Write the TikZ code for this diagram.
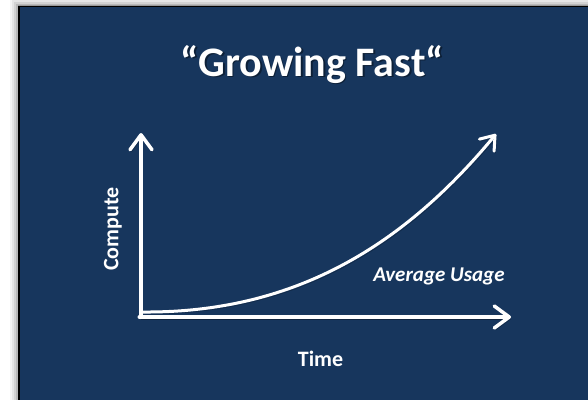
\documentclass[tikz,border=0pt]{standalone}
\usepackage{fontspec}
\setmainfont{Carlito}
\usetikzlibrary{arrows.meta}
\definecolor{slidenavy}{RGB}{23,54,93}
\tikzset{
  lineshadow/.style={preaction={draw=black, draw opacity=0.3, transform canvas={shift={(1.5pt,-2pt)}}}},
  axisarrow/.style={white, line width=3.5pt, line cap=round, lineshadow,
    -{Straight Barb[length=15pt,width=22pt,line cap=round,line join=round]}},
  usagecurve/.style={white, line width=3pt, line cap=round, lineshadow,
    -{Straight Barb[length=13pt,width=19pt,line cap=round,line join=round]}},
  axlabel/.style={text=white, font=\bfseries\fontsize{22}{26}\selectfont, inner sep=0pt},
}
\begin{document}
\begin{tikzpicture}[x=1pt,y=-1pt]
	\useasboundingbox (0,0) rectangle (588,399);
	\fill[white] (0,0) rectangle (588,399);
	%Schatten der Folie
	\foreach \d/\o in {9/0.04,7/0.06,5/0.08,3/0.12,1.5/0.16}
		\fill[black, opacity=\o] (19-\d,6.5-\d) rectangle (600,410);
	\filldraw[fill=slidenavy, draw=black, line width=1.2pt] (19,6.5) rectangle (600,410);%Folie

	\node[text=black, opacity=0.4, font=\bfseries\fontsize{42}{48}\selectfont, inner sep=0pt] at (314,66) {“Growing Fast“};
	\node (title)[text=white, font=\bfseries\fontsize{42}{48}\selectfont, inner sep=0pt] at (312.5,64.5) {“Growing Fast“};

	%Achsen
	\coordinate (O) at (141,317);
	\coordinate (Y) at (141,133);
	\coordinate (X) at (511,317);
	\draw[axisarrow] (O) -- (Y);
	\draw[axisarrow] (139.3,317) -- (X);

	%Kurve
	\coordinate (S) at (143,312);
	\coordinate (E) at (496,134);
	\draw[usagecurve] (S) .. controls (290,313) and (400,250) .. (E);

	\node (compute)[axlabel, rotate=90] at (113,229) {Compute};
	\node (time)[axlabel, anchor=base] at (320.5,366) {Time};
	\node (usage)[axlabel, font=\bfseries\itshape\fontsize{21}{25}\selectfont, anchor=base] at (439,281) {Average Usage};
\end{tikzpicture}
\end{document}
